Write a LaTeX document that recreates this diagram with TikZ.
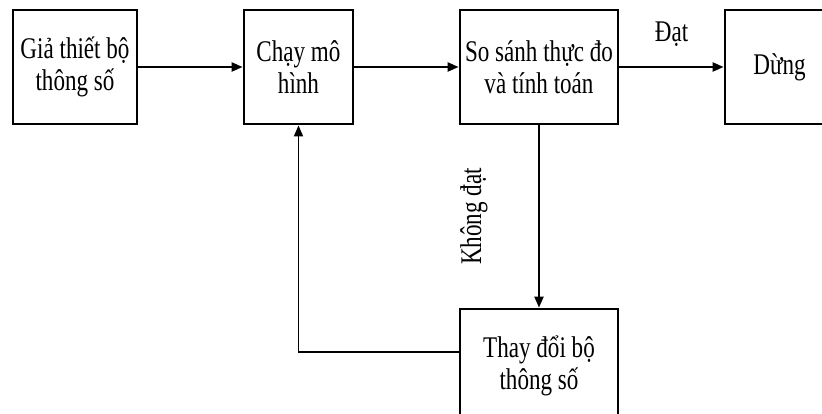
\documentclass[tikz,border=0pt]{standalone}
\usepackage{fontspec}
\setmainfont{Liberation Serif}[FakeStretch=0.77]
\usetikzlibrary{arrows.meta}
\begin{document}
\begin{tikzpicture}[x=1pt,y=-1pt,
  box/.style={draw,line width=2.8pt,minimum height=114pt,inner sep=0pt,align=center,
    font=\fontsize{30}{32}\selectfont},
  arr/.style={line width=2.2pt,-{Triangle[length=11pt,width=9pt]}},
  lbl/.style={font=\fontsize{30}{32}\selectfont}]
\useasboundingbox (0,0) rectangle (822,414);
\clip (0,0) rectangle (822,414);
\fill[white] (0,0) rectangle (822,414);
\node[box,minimum width=124pt] (b1) at (75,67) {Giả thiết bộ\\thông số};
\node[box,minimum width=109pt] (b2) at (298.5,67) {Chạy mô\\hình};
\node[box,minimum width=158pt] (b3) at (539,67) {So sánh thực đo\\và tính toán};
\node[box,minimum width=109pt] (b4) at (779.5,67) {Dừng};
\node[box,minimum width=158pt] (b5) at (539,366) {Thay đổi bộ\\thông số};
\draw[arr] (b1.east) -- (b2.west);
\draw[arr] (b2.east) -- (b3.west);
\draw[arr] (b3.east) -- node[lbl,midway,yshift=33pt] (dat) {Đạt} (b4.west);
\draw[arr] (b3.south) -- node[lbl,midway,xshift=-65pt,rotate=90] (kd) {Không đạt} (b5.north);
\draw[line width=1.6pt,-{Triangle[length=11pt,width=9pt]}] ([yshift=14pt]b5.west) -| (b2.south);
\end{tikzpicture}
\end{document}
